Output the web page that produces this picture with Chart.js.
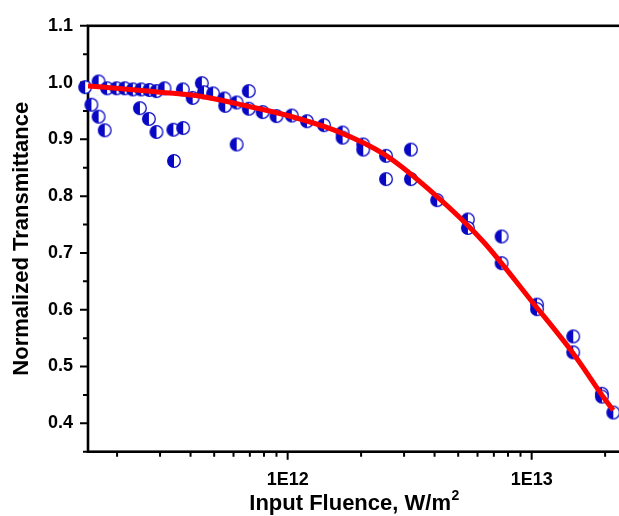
<!DOCTYPE html>
<html>
<head>
<meta charset="utf-8">
<title>Normalized Transmittance</title>
<script src="https://cdn.jsdelivr.net/npm/chart.js@4.4.1/dist/chart.umd.min.js"></script>
<style>
  html, body { margin: 0; padding: 0; background: #fff; overflow: hidden; }
  #wrap { width: 640px; height: 516px; }
</style>
</head>
<body>
<div id="wrap"><canvas id="myChart" width="640" height="516"></canvas></div>
<script>
// measured points: input fluence (W/m2) vs normalized transmittance
const fluence = [
  1.48e11, 1.57e11, 1.68e11, 1.68e11, 1.78e11, 1.82e11, 1.99e11, 2.15e11, 2.32e11, 2.48e11,
  2.51e11, 2.70e11, 2.71e11, 2.90e11, 2.90e11, 3.13e11, 3.40e11, 3.42e11, 3.72e11, 3.73e11,
  4.08e11, 4.45e11, 4.54e11, 4.95e11, 5.51e11, 5.55e11, 6.18e11, 6.18e11, 6.93e11, 6.93e11,
  7.9e11, 9.0e11, 1.04e12, 1.20e12, 1.41e12, 1.68e12, 1.68e12, 2.04e12, 2.04e12, 2.53e12,
  2.53e12, 3.20e12, 3.20e12, 4.10e12, 5.48e12, 5.48e12, 7.53e12, 7.53e12, 1.052e13, 1.052e13,
  1.48e13, 1.48e13, 1.94e13, 1.94e13, 2.16e13
]
const transmittance = [
  0.992, 0.961, 1.002, 0.940, 0.916, 0.990, 0.990, 0.990, 0.988, 0.955,
  0.988, 0.936, 0.987, 0.913, 0.985, 0.990, 0.917, 0.862, 0.988, 0.920,
  0.973, 0.999, 0.983, 0.981, 0.972, 0.959, 0.965, 0.891, 0.985, 0.954,
  0.948, 0.941, 0.942, 0.932, 0.925, 0.912, 0.903, 0.891, 0.882, 0.871,
  0.830, 0.882, 0.830, 0.793, 0.759, 0.744, 0.729, 0.682, 0.609, 0.601,
  0.553, 0.525, 0.452, 0.447, 0.419
]

// fitted curve
const fitFluence = [1.52e11, 2.26e11, 3.0e11, 4.4e11, 6.3e11, 1.0e12, 1.6e12, 2.5e12, 4.0e12, 6.3e12, 1.0e13, 1.48e13, 2.0e13, 2.16e13]
const fitTransmittance = [0.994, 0.988, 0.983, 0.976, 0.962, 0.942, 0.914, 0.873, 0.803, 0.721, 0.615, 0.523, 0.442, 0.423]

// axis labels
const xTickValues = [1e12, 1e13]
const xTickLabels = ['1E12', '1E13']
const yTickValues = [0.4, 0.5, 0.6, 0.7, 0.8, 0.9, 1.0, 1.1]
const yTickLabels = ['0.4', '0.5', '0.6', '0.7', '0.8', '0.9', '1.0', '1.1']
const xTitle = 'Input Fluence, W/m'
const xTitleSup = '2'

const X_MIN = 1.52e11
const X_MAX = 2.39e13
const BLUE = '#0808c4'
const FONT = "'Liberation Sans', Arial, sans-serif"

// log minor ticks 2..9 for each decade, only inside the axis range
const xMinorTicks = []
for (let e = 11; e <= 13; e++) {
  for (let m = 1; m <= 9; m++) {
    const v = m * Math.pow(10, e)
    if (v >= X_MIN && v <= X_MAX) xMinorTicks.push(v)
  }
}
const yMinorTicks = []
for (let k = 35; k <= 110; k += 5) yMinorTicks.push(k / 100)

// half filled circle marker
function halfCircle() {
  const c = document.createElement('canvas')
  c.width = 16
  c.height = 16
  const g = c.getContext('2d')
  const r = 6.3
  g.fillStyle = '#fff'
  g.beginPath(); g.arc(8, 8, r, 0, Math.PI * 2); g.fill()
  g.fillStyle = BLUE
  g.beginPath(); g.arc(8, 8, r, Math.PI / 2, Math.PI * 1.5); g.closePath(); g.fill()
  g.strokeStyle = BLUE
  g.lineWidth = 1.3
  g.beginPath(); g.arc(8, 8, r, 0, Math.PI * 2); g.stroke()
  return c
}

function isMajor(list, v) {
  return list.some(m => Math.abs(m - v) < 1e-6 * m)
}

// box round the plot plus outward tick marks
const frame = {
  id: 'frame',
  beforeDatasetsDraw(chart) {
    const { ctx, chartArea: a, scales: { x, y } } = chart
    ctx.save()
    ctx.strokeStyle = '#000'
    ctx.lineWidth = 2.6
    ctx.strokeRect(a.left, a.top, a.right - a.left, a.bottom - a.top)
    ctx.lineWidth = 2
    ctx.beginPath()
    x.ticks.forEach(t => {
      const px = x.getPixelForValue(t.value)
      const len = isMajor(xTickValues, t.value) ? 8 : 5
      ctx.moveTo(px, a.bottom)
      ctx.lineTo(px, a.bottom + len)
    })
    y.ticks.forEach(t => {
      const py = y.getPixelForValue(t.value)
      const len = isMajor(yTickValues, t.value) ? 8 : 5
      ctx.moveTo(a.left, py)
      ctx.lineTo(a.left - len, py)
    })
    ctx.stroke()
    ctx.restore()
  },
  // x title with a raised exponent
  afterDraw(chart) {
    const { ctx, chartArea: a } = chart
    ctx.save()
    ctx.fillStyle = '#000'
    ctx.textBaseline = 'alphabetic'
    ctx.font = 'bold 22px ' + FONT
    const w1 = ctx.measureText(xTitle).width
    ctx.font = 'bold 14px ' + FONT
    const w2 = ctx.measureText(xTitleSup).width
    const x0 = (a.left + a.right) / 2 - (w1 + w2) / 2 - 2
    ctx.font = 'bold 22px ' + FONT
    ctx.fillText(xTitle, x0, 509.5)
    ctx.font = 'bold 14px ' + FONT
    ctx.fillText(xTitleSup, x0 + w1 + 0.5, 500)
    ctx.restore()
  }
}

var ctx = document.getElementById('myChart').getContext('2d')
var chart = new Chart(ctx, {
  type: 'scatter',
  data: {
    datasets: [{
      label: 'Fit',
      data: fitFluence.map((f, i) => ({ x: f, y: fitTransmittance[i] })),
      showLine: true,
      borderColor: '#ff0000',
      borderWidth: 5,
      pointRadius: 0,
      cubicInterpolationMode: 'monotone',
      order: 0
    }, {
      label: 'Data',
      data: fluence.map((f, i) => ({ x: f, y: transmittance[i] })),
      pointStyle: halfCircle(),
      pointRadius: 6,
      clip: false,
      order: 1
    }]
  },
  options: {
    responsive: false,
    animation: false,
    layout: { padding: { top: 20, right: 16, left: 0, bottom: 0 } },
    plugins: { legend: { display: false }, tooltip: { enabled: false } },
    scales: {
      x: {
        type: 'logarithmic',
        min: X_MIN,
        max: X_MAX,
        afterBuildTicks: s => { s.ticks = xMinorTicks.map(v => ({ value: v })) },
        afterFit: s => { s.height = 64.3 },
        grid: { display: false, drawTicks: false },
        border: { display: false },
        ticks: {
          autoSkip: false,
          maxRotation: 0,
          padding: 18,
          color: '#000',
          font: { family: FONT, size: 18, weight: 'bold' },
          callback: v => {
            const i = xTickValues.indexOf(v)
            return i >= 0 ? xTickLabels[i] : ''
          }
        },
        title: { display: false }
      },
      y: {
        min: 0.35,
        max: 1.1,
        afterBuildTicks: s => { s.ticks = yMinorTicks.map(v => ({ value: v })) },
        afterFit: s => { s.width = 88 },
        grid: { display: false, drawTicks: false },
        border: { display: false },
        ticks: {
          autoSkip: false,
          padding: 15,
          color: '#000',
          font: { family: FONT, size: 18, weight: 'bold' },
          callback: v => {
            const i = yTickValues.findIndex(m => Math.abs(m - v) < 1e-6)
            return i >= 0 ? yTickLabels[i] : ''
          }
        },
        title: {
          display: true,
          text: 'Normalized Transmittance',
          color: '#000',
          font: { family: FONT, size: 22, weight: 'bold' },
          padding: { top: 8.5, bottom: 0 }
        }
      }
    }
  },
  plugins: [frame]
})
</script>
</body>
</html>
